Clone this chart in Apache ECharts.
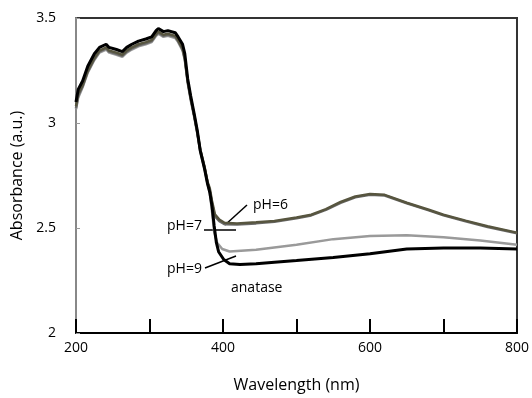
<!DOCTYPE html>
<html><head><meta charset="utf-8">
<script src="https://cdn.jsdelivr.net/npm/echarts@6/dist/echarts.min.js"></script>
<style>html,body{margin:0;padding:0;background:#fff}#c{width:532px;height:398px}</style>
</head><body><div id="c"></div>
<script>
var wlPH = [200,203,209,216,225,232,241,245,255,263,269,276,285,295,303,309,312,319,325,335,339,345,348,352,356,361,365,369,375,379,382,385,389,395,402,419,445,470,500,520,540,560,580,600,620,650,680,700,730,760,800];
var ph6 = [3.08,3.14,3.18,3.25,3.31,3.345,3.36,3.345,3.335,3.325,3.345,3.36,3.375,3.385,3.395,3.425,3.435,3.42,3.425,3.415,3.395,3.355,3.31,3.20,3.12,3.035,2.96,2.875,2.79,2.72,2.69,2.63,2.565,2.54,2.525,2.522,2.527,2.533,2.55,2.563,2.59,2.624,2.65,2.662,2.658,2.62,2.587,2.563,2.535,2.508,2.478];
var ph7 = [3.07,3.13,3.175,3.245,3.305,3.34,3.355,3.34,3.33,3.32,3.34,3.355,3.37,3.38,3.39,3.42,3.43,3.415,3.42,3.41,3.39,3.35,3.305,3.195,3.115,3.03,2.955,2.87,2.785,2.715,2.68,2.62,2.555,2.532,2.518,2.517,2.522,2.53,2.546,2.56,2.586,2.62,2.646,2.658,2.655,2.618,2.584,2.56,2.532,2.505,2.475];
var wl9 = [200,203,209,216,225,232,241,245,255,263,269,276,285,295,303,309,312,319,325,335,339,345,348,352,356,361,365,369,375,379,382,385,388,392,399,409,445,500,550,600,650,700,750,800];
var ph9 = [3.065,3.12,3.17,3.24,3.30,3.335,3.35,3.335,3.325,3.315,3.335,3.35,3.365,3.375,3.385,3.415,3.425,3.41,3.415,3.405,3.385,3.345,3.30,3.19,3.11,3.025,2.95,2.865,2.78,2.71,2.67,2.58,2.48,2.43,2.40,2.388,2.396,2.42,2.447,2.462,2.466,2.456,2.44,2.42];
var wlAn = [200,203,209,216,225,232,241,245,255,263,269,276,285,295,303,309,312,319,325,335,339,345,348,352,356,361,365,369,375,379,382,385,388,391,394,401,409,423,445,470,500,550,600,650,700,750,800];
var anatase = [3.10,3.16,3.20,3.27,3.33,3.36,3.375,3.36,3.35,3.34,3.36,3.375,3.39,3.40,3.41,3.44,3.45,3.435,3.44,3.43,3.41,3.375,3.33,3.21,3.13,3.04,2.964,2.87,2.78,2.71,2.67,2.605,2.51,2.43,2.387,2.35,2.33,2.326,2.33,2.337,2.345,2.36,2.377,2.40,2.405,2.405,2.40];
var xLabels = [200,400,600,800];

function zip(a,b){return a.map(function(x,i){return [x,b[i]];});}
var FONT = '"Open Sans", sans-serif';
var chart = echarts.init(document.getElementById('c'));
function ln(name,wl,v,color,w){return {name:name,type:'line',data:zip(wl,v),showSymbol:false,symbol:'none',lineStyle:{color:color,width:w},itemStyle:{color:color},animation:false};}
chart.setOption({
  animation:false,
  grid:{left:76,right:6,top:18,bottom:58,show:true,borderColor:'#333',borderWidth:2},
  xAxis:{type:'value',min:200,max:800,interval:100,name:'Wavelength (nm)',nameLocation:'middle',nameGap:44,
    nameTextStyle:{fontFamily:FONT,fontSize:16,color:'#000'},
    axisLine:{lineStyle:{color:'#000',width:2}},
    axisTick:{inside:true,length:14,lineStyle:{color:'#000',width:2}},
    splitLine:{show:false},
    axisLabel:{fontFamily:FONT,fontSize:14,color:'#000',margin:8,formatter:function(v){return xLabels.indexOf(v)>=0?String(v):'';}}},
  yAxis:{type:'value',min:2,max:3.5,interval:0.5,name:'Absorbance (a.u.)',nameLocation:'middle',nameGap:40,
    nameTextStyle:{fontFamily:FONT,fontSize:16,color:'#000'},
    axisLine:{show:true,lineStyle:{color:'#888',width:2}},
    axisTick:{show:true,inside:true,length:4,lineStyle:{color:'#999',width:1}},
    splitLine:{show:false},
    axisLabel:{fontFamily:FONT,fontSize:14,color:'#000',margin:20}},
  series:[
    ln('pH=9',wl9,ph9,'#9a9a9a',2.5),
    ln('pH=7',wlPH,ph7,'#6a6a6a',2.5),
    ln('pH=6',wlPH,ph6,'#57553f',2.5),
    ln('anatase',wlAn,anatase,'#000',3)
  ],
  graphic:[
    {type:'text',left:253,top:198,style:{text:'pH=6',font:'14px '+FONT,fill:'#000'}},
    {type:'line',shape:{x1:247,y1:205,x2:225,y2:225},style:{stroke:'#000',lineWidth:1.5}},
    {type:'text',left:167,top:219,style:{text:'pH=7',font:'14px '+FONT,fill:'#000'}},
    {type:'line',shape:{x1:204,y1:230,x2:236,y2:230},style:{stroke:'#000',lineWidth:1.5}},
    {type:'text',left:167,top:262,style:{text:'pH=9',font:'14px '+FONT,fill:'#000'}},
    {type:'line',shape:{x1:205,y1:268,x2:236,y2:256},style:{stroke:'#000',lineWidth:1.5}},
    {type:'text',left:231,top:281,style:{text:'anatase',font:'14px '+FONT,fill:'#000'}}
  ]
});
</script></body></html>
